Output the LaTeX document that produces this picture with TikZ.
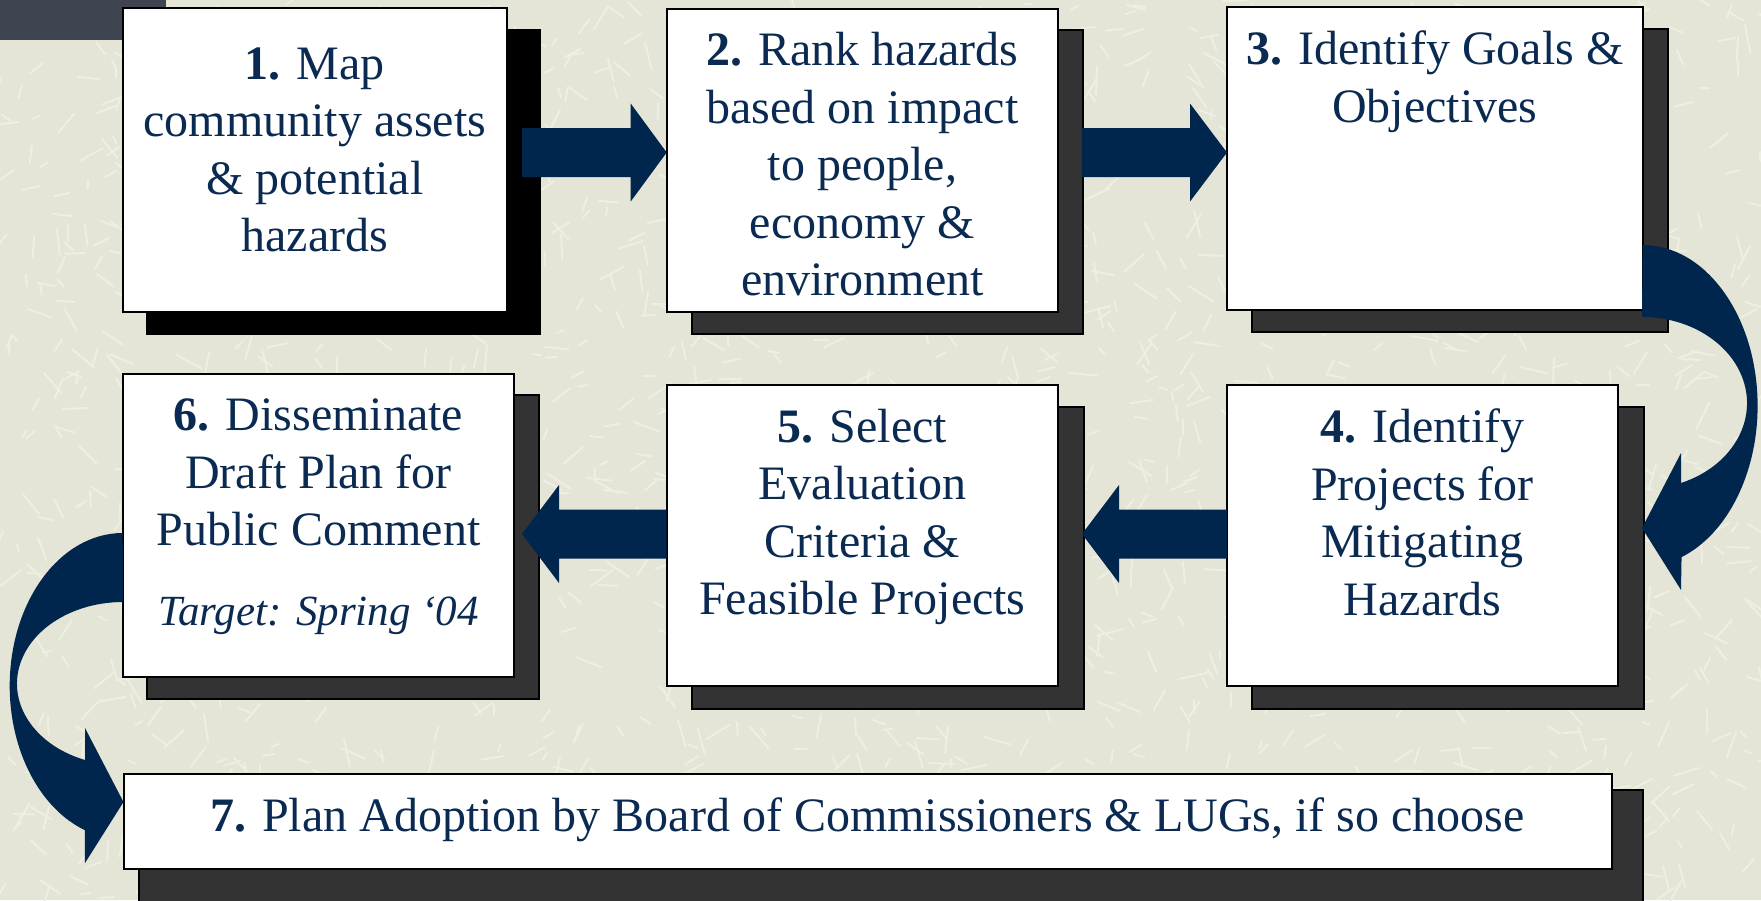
\documentclass[tikz,border=0pt]{standalone}
\usepackage{fontspec}
\setmainfont{Liberation Serif}
\usetikzlibrary{calc}

\definecolor{navy}{HTML}{00264D}
\definecolor{inknavy}{HTML}{0A2A52}
\definecolor{paper}{HTML}{E4E5D6}
\definecolor{scratch}{HTML}{EEEFE3}
\definecolor{shadowgray}{HTML}{333333}
\definecolor{corner}{HTML}{3F4451}

% block arrow from #1 to tip #2, head length #3 (negative points left)
\newcommand{\blockarrow}[3]{%
  \fill[navy] ($(#1)+(0,-24.5)$) -- ($(#2)+({-1*(#3)},-24.5)$) -- ($(#2)+({-1*(#3)},-49)$) -- (#2)
    -- ($(#2)+({-1*(#3)},49)$) -- ($(#2)+({-1*(#3)},24.5)$) -- ($(#1)+(0,24.5)$) -- cycle;}

\begin{document}
\begin{tikzpicture}[x=1pt,y=-1pt,
    box/.style={draw=black, line width=2pt, fill=white, inner sep=0pt, outer sep=0pt},
    dropshadow/.style={fill=shadowgray, draw=black, line width=2pt},
    boxtext/.style={text=inknavy, align=center, inner sep=0pt, anchor=north,
        font=\fontsize{48}{57.5}\selectfont}]

        \useasboundingbox (0,0) rectangle (1761,900);
        \clip (0,0) rectangle (1761,900);
        \fill[paper] (0,0) rectangle (1761,900);
        \pgfmathsetseed{42}
        \foreach \i in {1,...,1800} {
                \pgfmathsetmacro{\px}{random(0,1761)}
                \pgfmathsetmacro{\py}{random(0,900)}
                \pgfmathsetmacro{\ang}{random(0,179)}
                \pgfmathsetmacro{\len}{random(8,28)}
                \draw[scratch, line width=2pt, line cap=round] (\px,\py) -- ++(\ang:\len);
        }
        \fill[corner] (0,0) rectangle (166,40);

        % shadows
        \draw[fill=black, draw=black, line width=2pt] (146.6,30) rectangle (539.6,334);
        \draw[dropshadow] (691.7,30) rectangle (1083,333.5);
        \draw[dropshadow] (1251.5,29) rectangle (1668,331.7);
        \draw[dropshadow] (1252,407) rectangle (1643.5,708.5);
        \draw[dropshadow] (692,407) rectangle (1083.5,708.5);
        \draw[dropshadow] (147.3,395) rectangle (539,698.5);
        \draw[dropshadow] (139,790) rectangle (1643,905);

        % boxes
        \node[box, minimum width=384.5pt, minimum height=303.4pt] (b1) at (314.75,160) {};
        \node[box, minimum width=391.3pt, minimum height=302.7pt] (b2) at (862.35,160.35) {};
        \node[box, minimum width=415.6pt, minimum height=303.3pt] (b3) at (1434.8,158.35) {};
        \node[box, minimum width=390.9pt, minimum height=301pt] (b4) at (1422.45,535.5) {};
        \node[box, minimum width=391.3pt, minimum height=301pt] (b5) at (862.35,535.5) {};
        \node[box, minimum width=391.6pt, minimum height=302.7pt] (b6) at (318.5,525.35) {};
        \node[box, minimum width=1488.2pt, minimum height=95.8pt] (b7) at (867.6,821.4) {};

        % straight arrows
        \coordinate (a12) at (522,152.5);
        \coordinate (t12) at (b2.west |- a12);
        \coordinate (a23) at (1082,152.5);
        \coordinate (t23) at (b3.west |- a23);
        \coordinate (t45) at (1082,534);
        \coordinate (a45) at (b4.west |- t45);
        \coordinate (t56) at (522,534);
        \coordinate (a56) at (b5.west |- t56);
        \blockarrow{a12}{t12}{36}
        \blockarrow{a23}{t23}{37}
        \blockarrow{a45}{t45}{-37}
        \blockarrow{a56}{t56}{-37}

        % curved arrows
        \coordinate (c34) at (b3.east |- 0,245);
        \coordinate (c67) at (b6.west |- 0,533);
        \fill[navy] (c34) arc[start angle=-90, end angle=70.2, x radius=115, y radius=160.8]
                -- (1681,590) -- (1642,528) -- (1681,453) -- (1681,483)
                arc[start angle=68.2, end angle=-90, x radius=105, y radius=86.1] -- cycle;
        \fill[navy] (c67) arc[start angle=270, end angle=109.6, x radius=113, y radius=153]
                -- (85,863) -- (b7.west |- 0,802) -- (85,728) -- (85,760)
                arc[start angle=111, end angle=270, x radius=106, y radius=81.7] -- cycle;

        % texts
        \node[boxtext] (t1) at (314.75,47.6) {\textbf{1.} Map\\community assets\\\& potential\\hazards};
        \node[boxtext] (t2) at (862.35,32.2) {\textbf{2.} Rank hazards\\based on impact\\to people,\\economy \&\\environment};
        \node[boxtext] (t3) at (1434.8,30.5) {\textbf{3.} Identify Goals \&\\Objectives};
        \node[boxtext] (t4) at (1422.45,408.9) {\textbf{4.} Identify\\Projects for\\Mitigating\\Hazards};
        \node[boxtext] (t5) at (862.35,408.9) {\textbf{5.} Select\\Evaluation\\Criteria \&\\Feasible Projects};
        \node[boxtext] (t6) at (318.5,398.6) {\textbf{6.} Disseminate\\Draft Plan for\\Public Comment};
        \node[boxtext, anchor=base, font=\fontsize{43}{50}\selectfont\itshape] (t6date) at (318.5,625) {Target: Spring ‘04};
        \node[boxtext] (t7) at (867.6,797.9) {\textbf{7.} Plan Adoption by Board of Commissioners \& LUGs, if so choose};

\end{tikzpicture}
\end{document}
